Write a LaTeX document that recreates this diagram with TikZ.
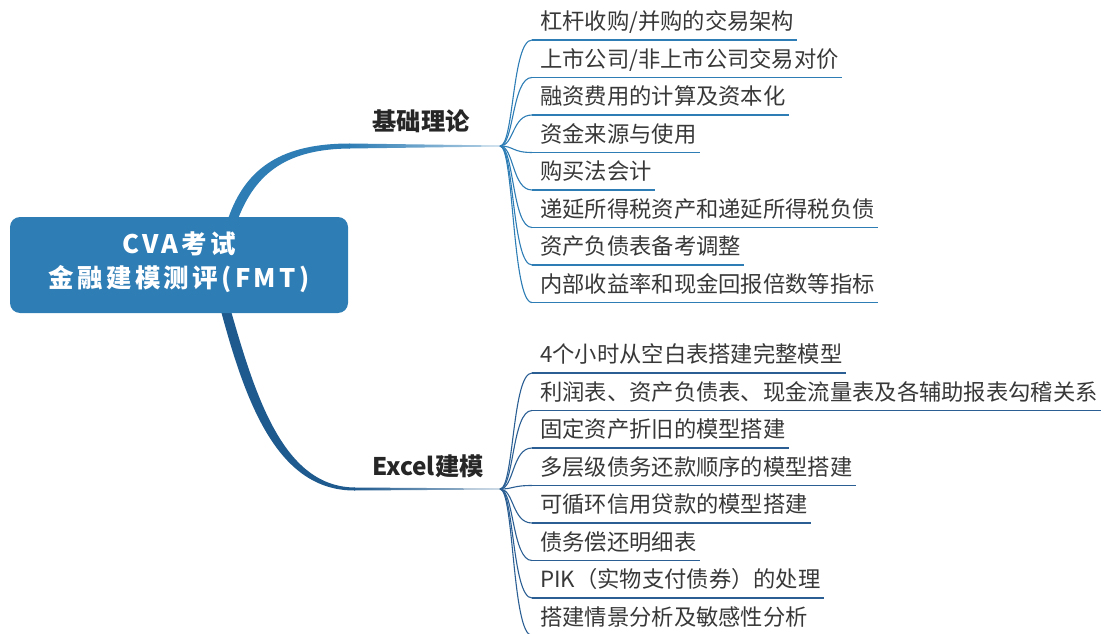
\documentclass[tikz,border=0pt]{standalone}
\usepackage{fontspec}
\newfontfamily\cjk{Noto Sans CJK SC}
\newfontfamily\cjkwide[LetterSpace=13]{Noto Sans CJK SC}
\usetikzlibrary{positioning}
\definecolor{rootblue}{RGB}{46,125,181}
\definecolor{darkblue}{RGB}{31,90,142}
\definecolor{twigblue}{RGB}{43,95,148}
\definecolor{leafgray}{RGB}{56,56,56}

\begin{document}
\begin{tikzpicture}[x=1pt,y=-1pt]
	\tikzstyle{root}=[fill=rootblue,rounded corners=10pt,minimum width=338pt,minimum height=96pt,text=white,align=center,text depth=11pt,font=\cjkwide\bfseries\fontsize{25.5}{34}\selectfont]
	\tikzstyle{topic}=[font=\cjk\bfseries\fontsize{24.3}{28}\selectfont,text=black!85]
	\tikzstyle{leaf}=[anchor=south west,inner xsep=8pt,inner ysep=10pt,text depth=0pt,font=\cjk\fontsize{22.3}{26}\selectfont,text=leafgray]
	\tikzstyle{twigA}=[draw=rootblue,line width=1.1pt]
	\tikzstyle{twigB}=[draw=twigblue,line width=1.1pt]
	\tikzstyle{lineA}=[draw=rootblue,line width=1.8pt]
	\tikzstyle{lineB}=[draw=twigblue,line width=1.8pt]

	\useasboundingbox (0,0) rectangle (1104,634);

	% branches
	\fill[rootblue] (228,219) .. controls (246,166) and (284,143.5) .. (350,143.5)
		-- (350,148.5) .. controls (288,149) and (256,172) .. (238,219) -- cycle;
	\shade[left color=rootblue,right color=rootblue!35] (349,143.5) -- (500,145.5) -- (500,146.5) -- (349,148.5) -- cycle;
	\fill[darkblue] (221,311) .. controls (246,404) and (278,491) .. (355,490.5)
		-- (355,487.5) .. controls (284,487) and (256,398) .. (231,311) -- cycle;
	\shade[left color=darkblue,right color=darkblue!35] (354,487.5) -- (500,488.5) -- (500,489.5) -- (354,490.5) -- cycle;

	\node[root] (root) at (179,265) {CVA考试\\金融建模测评(FMT)};

	\node[topic] (base) at (421,121) {基础理论};
	\node[topic] (excel) at (428,466) {Excel建模};
	\coordinate (h1) at (500,146);
	\coordinate (h2) at (500,489);

	% leaves of base
	\node[leaf] (a1) at (532,40) {杠杆收购/并购的交易架构};
	\node[leaf] (a2) at (532,77.5) {上市公司/非上市公司交易对价};
	\node[leaf] (a3) at (532,115) {融资费用的计算及资本化};
	\node[leaf] (a4) at (532,152.5) {资金来源与使用};
	\node[leaf] (a5) at (532,190) {购买法会计};
	\node[leaf] (a6) at (532,227.5) {递延所得税资产和递延所得税负债};
	\node[leaf] (a7) at (532,265) {资产负债表备考调整};
	\node[leaf] (a8) at (532,302.5) {内部收益率和现金回报倍数等指标};

	% leaves of excel
	\node[leaf] (b1) at (532,373) {4个小时从空白表搭建完整模型};
	\node[leaf] (b2) at (532,410.5) {利润表、资产负债表、现金流量表及各辅助报表勾稽关系};
	\node[leaf] (b3) at (532,448) {固定资产折旧的模型搭建};
	\node[leaf] (b4) at (532,485.5) {多层级债务还款顺序的模型搭建};
	\node[leaf] (b5) at (532,523) {可循环信用贷款的模型搭建};
	\node[leaf] (b6) at (532,560.5) {债务偿还明细表};
	\node[leaf] (b7) at (532,598) {PIK（实物支付债券）的处理};
	\node[leaf] (b8) at (532,635.5) {搭建情景分析及敏感性分析};

	\draw[twigA] (h1) .. controls +(14,0) and +(-20,0) .. (a1.south west);
	\draw[twigA] (h1) .. controls +(14,0) and +(-20,0) .. (a2.south west);
	\draw[twigA] (h1) .. controls +(14,0) and +(-20,0) .. (a3.south west);
	\draw[twigA] (h1) .. controls +(14,0) and +(-20,0) .. (a4.south west);
	\draw[twigA] (h1) .. controls +(14,0) and +(-20,0) .. (a5.south west);
	\draw[twigA] (h1) .. controls +(14,0) and +(-20,0) .. (a6.south west);
	\draw[twigA] (h1) .. controls +(14,0) and +(-20,0) .. (a7.south west);
	\draw[twigA] (h1) .. controls +(14,0) and +(-20,0) .. (a8.south west);
	\draw[lineA] (a1.south west) -- ([xshift=-5pt]a1.south east);
	\draw[lineA] (a2.south west) -- ([xshift=-5pt]a2.south east);
	\draw[lineA] (a3.south west) -- ([xshift=-5pt]a3.south east);
	\draw[lineA] (a4.south west) -- ([xshift=-5pt]a4.south east);
	\draw[lineA] (a5.south west) -- ([xshift=-5pt]a5.south east);
	\draw[lineA] (a6.south west) -- ([xshift=-5pt]a6.south east);
	\draw[lineA] (a7.south west) -- ([xshift=-5pt]a7.south east);
	\draw[lineA] (a8.south west) -- ([xshift=-5pt]a8.south east);

	\draw[twigB] (h2) .. controls +(14,0) and +(-20,0) .. (b1.south west);
	\draw[twigB] (h2) .. controls +(14,0) and +(-20,0) .. (b2.south west);
	\draw[twigB] (h2) .. controls +(14,0) and +(-20,0) .. (b3.south west);
	\draw[twigB] (h2) .. controls +(14,0) and +(-20,0) .. (b4.south west);
	\draw[twigB] (h2) .. controls +(14,0) and +(-20,0) .. (b5.south west);
	\draw[twigB] (h2) .. controls +(14,0) and +(-20,0) .. (b6.south west);
	\draw[twigB] (h2) .. controls +(14,0) and +(-20,0) .. (b7.south west);
	\draw[twigB] (h2) .. controls +(14,0) and +(-20,0) .. (b8.south west);
	\draw[lineB] (b1.south west) -- ([xshift=-5pt]b1.south east);
	\draw[lineB] (b2.south west) -- ([xshift=-5pt]b2.south east);
	\draw[lineB] (b3.south west) -- ([xshift=-5pt]b3.south east);
	\draw[lineB] (b4.south west) -- ([xshift=-5pt]b4.south east);
	\draw[lineB] (b5.south west) -- ([xshift=-5pt]b5.south east);
	\draw[lineB] (b6.south west) -- ([xshift=-5pt]b6.south east);
	\draw[lineB] (b7.south west) -- ([xshift=-5pt]b7.south east);
	\draw[lineB] (b8.south west) -- ([xshift=-5pt]b8.south east);
\end{tikzpicture}
\end{document}
